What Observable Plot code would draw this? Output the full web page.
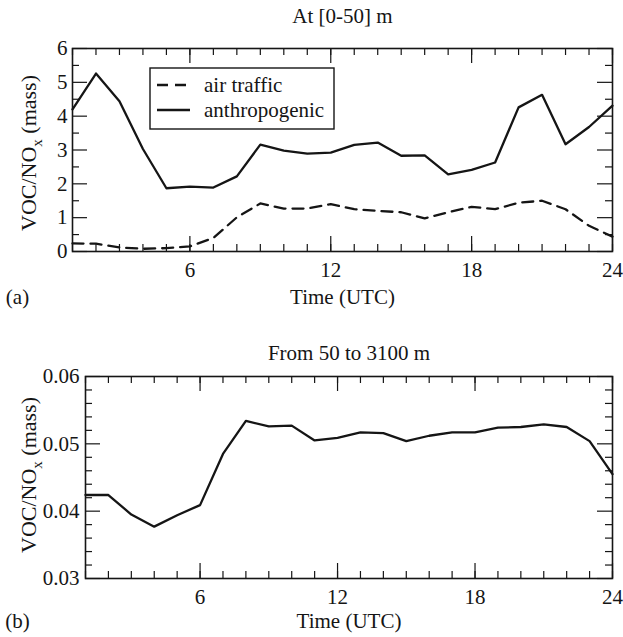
<!DOCTYPE html>
<html><head><meta charset="utf-8">
<script src="https://cdn.jsdelivr.net/npm/d3@7"></script>
<script src="https://cdn.jsdelivr.net/npm/@observablehq/plot@0.6"></script>
<style>
body{margin:0;background:#fff}
#chart svg{display:block}
#chart svg, #chart svg text, #chart svg tspan { font-family: "Liberation Serif", "Times New Roman", Times, serif !important; }
</style>
</head><body><div id="chart"></div>
<script>
const hours = [1,2,3,4,5,6,7,8,9,10,11,12,13,14,15,16,17,18,19,20,21,22,23,24];
const anthropogenic = [4.20,5.26,4.44,3.03,1.87,1.92,1.89,2.22,3.16,2.98,2.89,2.92,3.15,3.22,2.83,2.84,2.28,2.41,2.63,4.26,4.63,3.17,3.68,4.31];
const airTraffic = [0.24,0.23,0.12,0.08,0.10,0.15,0.40,1.01,1.42,1.27,1.27,1.40,1.25,1.20,1.16,0.98,1.16,1.32,1.25,1.44,1.50,1.25,0.76,0.44];
const upper = [0.0424,0.0424,0.0395,0.0377,0.0394,0.0409,0.0485,0.0534,0.0526,0.0527,0.0505,0.0509,0.0517,0.0516,0.0504,0.0512,0.0517,0.0517,0.0524,0.0525,0.0529,0.0525,0.0504,0.0455];
const xMajorTicks = [6,12,18,24];
const xMinorTicks = hours;
const yMajorA = [0,1,2,3,4,5,6];
const yTickLabelsA = ["0","1","2","3","4","5","6"];
const yMinorA = [0.5,1.5,2.5,3.5,4.5,5.5];
const yMajorB = [0.03,0.04,0.05,0.06];
const yTickLabelsB = ["0.03","0.04","0.05","0.06"];
const yMinorB = [0.032,0.034,0.036,0.038,0.042,0.044,0.046,0.048,0.052,0.054,0.056,0.058];
const titleA = "At [0-50] m", titleB = "From 50 to 3100 m";
const xLabel = "Time (UTC)";
const seriesNames = ["air traffic","anthropogenic"];

const FONT = '"Liberation Serif", "Times New Roman", Times, serif';
const INK = "#151515";

function ticks(H) {
  return [
    Plot.tickX(xMinorTicks, {x: d=>d, insetTop: H-7, stroke: INK, strokeWidth: 1.2}),
    Plot.tickX(xMinorTicks, {x: d=>d, insetBottom: H-7, stroke: INK, strokeWidth: 1.2}),
    Plot.tickX(xMajorTicks, {x: d=>d, insetTop: H-15, stroke: INK, strokeWidth: 1.2}),
    Plot.tickX(xMajorTicks, {x: d=>d, insetBottom: H-15, stroke: INK, strokeWidth: 1.2})
  ];
}
function yticks(major, minor, W) {
  return [
    Plot.tickY(minor, {y: d=>d, insetRight: W-7, stroke: INK, strokeWidth: 1.2}),
    Plot.tickY(minor, {y: d=>d, insetLeft: W-7, stroke: INK, strokeWidth: 1.2}),
    Plot.tickY(major, {y: d=>d, insetRight: W-15, stroke: INK, strokeWidth: 1.2}),
    Plot.tickY(major, {y: d=>d, insetLeft: W-15, stroke: INK, strokeWidth: 1.2})
  ];
}

function addYLabel(svg, x, y) {
  const t = d3.select(svg).append("text")
    .attr("transform", `translate(${x},${y}) rotate(-90)`)
    .attr("text-anchor", "middle")
    .attr("fill", INK)
    .style("font-family", FONT).style("font-size", "22px");
  t.append("tspan").text("VOC/NO");
  t.append("tspan").attr("dy", 6).style("font-size", "15px").text("x");
  t.append("tspan").attr("dy", -6).text(" (mass)");
}

// Panel (a)
const dataA = hours.map((h,i)=>({h, v: anthropogenic[i]}));
const dataAir = hours.map((h,i)=>({h, v: airTraffic[i]}));
const HA = 318, mtA = 48, mbA = 67, mlA = 72, mrA = 11;
const plotA = Plot.plot({
  width: 623, height: HA, marginTop: mtA, marginBottom: mbA, marginLeft: mlA, marginRight: mrA,
  x: {domain: [1,24]}, y: {domain: [0,6]},
  style: {fontFamily: FONT, fontSize: "21px", color: INK, background: "#fff"},
  marks: [
    Plot.line(dataAir, {x: "h", y: "v", stroke: INK, strokeWidth: 2.3, strokeDasharray: "11,7"}),
    Plot.line(dataA, {x: "h", y: "v", stroke: INK, strokeWidth: 2.3}),
    ...ticks(HA-mtA-mbA),
    ...yticks(yMajorA, yMinorA, 623-mlA-mrA),
    Plot.frame({stroke: INK, strokeWidth: 1.6}),
    Plot.axisX({ticks: xMajorTicks, tickFormat: d=>String(d), tickSize: 0, tickPadding: 11, label: null}),
    Plot.axisY({ticks: yMajorA, tickFormat: d=>yTickLabelsA[yMajorA.indexOf(d)], tickSize: 0, tickPadding: 5, label: null}),
    Plot.text([titleA], {text: d=>d, frameAnchor: "top", lineAnchor: "middle", dy: -32, fill: INK}),
    Plot.text([xLabel], {text: d=>d, frameAnchor: "bottom", lineAnchor: "middle", dy: 46, fill: INK}),
    Plot.text(["(a)"], {text: d=>d, frameAnchor: "bottom-left", lineAnchor: "middle", dx: -55, dy: 46, textAnchor: "middle", fill: INK})
  ]
});
addYLabel(plotA, 36, 153);
// legend
{
  const g = d3.select(plotA).append("g");
  g.append("rect").attr("x", 150).attr("y", 68).attr("width", 184).attr("height", 61)
    .attr("fill", "#fff").attr("stroke", INK).attr("stroke-width", 1.4);
  const rows = [{y: 85, dash: "11,7"}, {y: 110, dash: null}];
  rows.forEach((r,i) => {
    g.append("line").attr("x1", 157).attr("x2", 190).attr("y1", r.y).attr("y2", r.y)
      .attr("stroke", INK).attr("stroke-width", 2.3).attr("stroke-dasharray", r.dash);
    g.append("text").attr("x", 204).attr("y", r.y).attr("dy", "0.32em")
      .attr("text-anchor", "start").attr("fill", INK)
      .style("font-family", FONT).style("font-size", "21px").text(seriesNames[i]);
  });
}

// Panel (b)
const dataB = hours.map((h,i)=>({h, v: upper[i]}));
const HB = 319, mtB = 58, mbB = 59, mlB = 85, mrB = 11;
const plotB = Plot.plot({
  width: 623, height: HB, marginTop: mtB, marginBottom: mbB, marginLeft: mlB, marginRight: mrB,
  x: {domain: [1,24]}, y: {domain: [0.03,0.06]},
  style: {fontFamily: FONT, fontSize: "21px", color: INK, background: "#fff"},
  marks: [
    Plot.line(dataB, {x: "h", y: "v", stroke: INK, strokeWidth: 2.3}),
    ...ticks(HB-mtB-mbB),
    ...yticks(yMajorB, yMinorB, 623-mlB-mrB),
    Plot.frame({stroke: INK, strokeWidth: 1.6}),
    Plot.axisX({ticks: xMajorTicks, tickFormat: d=>String(d), tickSize: 0, tickPadding: 11, label: null}),
    Plot.axisY({ticks: yMajorB, tickFormat: d=>yTickLabelsB[yMajorB.indexOf(d)], tickSize: 0, tickPadding: 6, label: null}),
    Plot.text([titleB], {text: d=>d, frameAnchor: "top", lineAnchor: "middle", dy: -23, fill: INK}),
    Plot.text([xLabel], {text: d=>d, frameAnchor: "bottom", lineAnchor: "middle", dy: 43, fill: INK}),
    Plot.text(["(b)"], {text: d=>d, frameAnchor: "bottom-left", lineAnchor: "middle", dx: -68, dy: 43, textAnchor: "middle", fill: INK})
  ]
});
addYLabel(plotB, 36, 157);

document.getElementById("chart").append(plotA, plotB);
</script>
</body></html>
